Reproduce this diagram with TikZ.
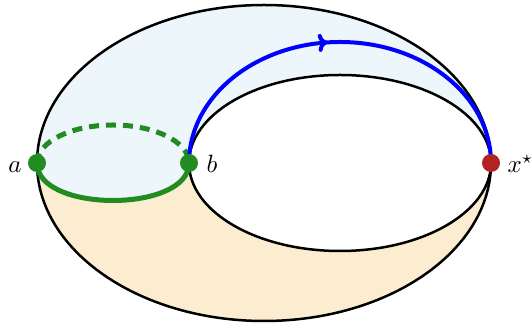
\documentclass[tikz,border=0pt]{standalone}
\usetikzlibrary{arrows.meta,decorations.markings}
\definecolor{lightsky}{RGB}{237,246,250}
\definecolor{lightpeach}{RGB}{253,237,208}
\definecolor{pathgreen}{RGB}{34,139,34}
\definecolor{starred}{RGB}{178,34,34}

\begin{document}
\begin{tikzpicture}[
  x=0.4pt,y=0.4pt,
  rim/.style={line width=1pt},
  gpath/.style={pathgreen,line width=2pt},
  dot/.style={circle,inner sep=0pt,minimum size=7.2pt},
  midarrow/.style={postaction={decorate},decoration={markings,
    mark=at position #1 with {\arrow{To[length=3.6pt,width=7.2pt]}}}}
]
  \useasboundingbox (0,0) rectangle (532,325);

  \coordinate (a) at (37,162);
  \coordinate (b) at (189,162);
  \coordinate (xs) at (491,162);

  % two halves of the annulus
  \fill[lightsky] (a) arc[start angle=180,end angle=0,x radius=227,y radius=158]
    arc[start angle=0,end angle=180,x radius=151,y radius=88]
    .. controls +(0,-50) and +(0,-50) .. (a) -- cycle;
  \fill[lightpeach] (a) arc[start angle=180,end angle=360,x radius=227,y radius=158]
    arc[start angle=0,end angle=-180,x radius=151,y radius=88]
    .. controls +(0,-50) and +(0,-50) .. (a) -- cycle;

  \draw[rim] (264,162) ellipse[x radius=227,y radius=158];
  \draw[rim] (340,162) ellipse[x radius=151,y radius=88];

  % loops at a and b
  \draw[gpath] (a) .. controls +(0,-50) and +(0,-50) .. (b);
  \draw[gpath,dash pattern=on 4pt off 2.8pt]
    (a) arc[start angle=180,end angle=0,x radius=76,y radius=38];

  \draw[blue,line width=1.6pt,midarrow=0.47]
    (b) arc[start angle=180,end angle=0,x radius=151,y radius=121];

  \node[dot,fill=pathgreen] (adot) at (a) {};
  \node[dot,fill=pathgreen] (bdot) at (b) {};
  \node[dot,fill=starred] (xsdot) at (xs) {};

  \node[anchor=base] (alabel) at (15,152) {$a$};
  \node[anchor=base] (blabel) at (212,152) {$b$};
  \node[anchor=base west,inner sep=0pt] (xslabel) at (507,152) {$x^\star$};
\end{tikzpicture}
\end{document}
